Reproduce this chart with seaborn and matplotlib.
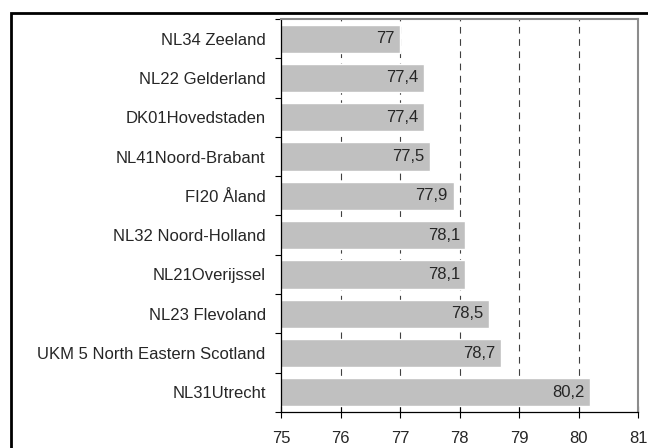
import matplotlib
matplotlib.use('Agg')

import pandas as pd
import matplotlib.pyplot as plt
import seaborn as sns
from matplotlib.patches import Rectangle
from matplotlib.ticker import FixedLocator

# Data
regions = ["NL34 Zeeland", "NL22 Gelderland", "DK01Hovedstaden", "NL41Noord-Brabant",
           "FI20 Åland", "NL32 Noord-Holland", "NL21Overijssel", "NL23 Flevoland",
           "UKM 5 North Eastern Scotland", "NL31Utrecht"]
values = [77.0, 77.4, 77.4, 77.5, 77.9, 78.1, 78.1, 78.5, 78.7, 80.2]
value_labels = ["77", "77,4", "77,4", "77,5", "77,9", "78,1", "78,1", "78,5", "78,7", "80,2"]
x_ticks = [75, 76, 77, 78, 79, 80, 81]

df = pd.DataFrame({"region": regions, "value": values})

sns.set_style("white")
plt.rcParams['font.family'] = ['Liberation Sans', 'DejaVu Sans']

fig = plt.figure(figsize=(6.48, 4.48), dpi=100)
ax = fig.add_axes([281/648, 1 - 412/448, (638 - 281)/648, (412 - 19)/448])

sns.barplot(data=df, y="region", x="value", orient="h", color="#C0C0C0",
            saturation=1, width=0.72, ax=ax, zorder=2)

ax.set_xlim(75, 81)
ax.set_ylim(len(regions) - 0.5, -0.5)
ax.set_xticks(x_ticks)
ax.set_xticklabels([str(t) for t in x_ticks])
ax.set_xlabel("")
ax.set_ylabel("")

# dashed vertical gridlines behind bars
ax.set_axisbelow(True)
for t in x_ticks[1:-1]:
    ax.axvline(t, color="#404040", linestyle=(0, (6, 5)), linewidth=0.8, zorder=0)

# y tick labels, boundary ticks
ax.tick_params(left=True, bottom=True)
ax.tick_params(axis="y", which="major", length=0, pad=11, labelsize=12)
ax.yaxis.set_minor_locator(FixedLocator([i - 0.5 for i in range(len(regions) + 1)]))
ax.tick_params(axis="y", which="minor", left=True, length=4.3, width=0.8,
               color="black", direction="out")
ax.tick_params(axis="x", which="major", length=8.6, width=0.8, color="black",
               direction="inout", pad=9.5, labelsize=12)

# value labels inside bar ends
for i, (v, lab) in enumerate(zip(values, value_labels)):
    ax.annotate(lab, xy=(v, i), xytext=(-4, 0), textcoords="offset points",
                ha="right", va="center", fontsize=12)

for side in ["top", "right"]:
    ax.spines[side].set_color("#8c8c8c")
    ax.spines[side].set_linewidth(1.5)
for side in ["left", "bottom"]:
    ax.spines[side].set_color("black")
    ax.spines[side].set_linewidth(0.9)

# outer frame
fig.patches.append(Rectangle((11/648, -0.2), 1.2, 1 - 13/448 + 0.2,
                             transform=fig.transFigure, fill=False,
                             edgecolor="black", linewidth=2, clip_on=False))

fig.savefig("out.png", dpi=100)
